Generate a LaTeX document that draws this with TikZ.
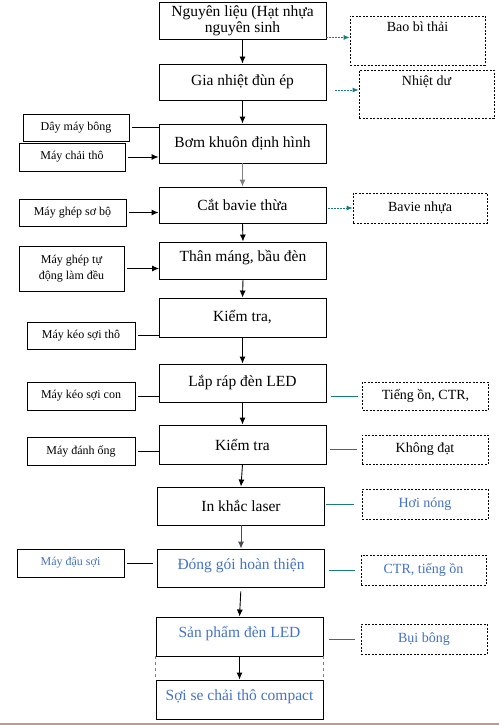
\documentclass[tikz,border=0pt]{standalone}
\usepackage{fontspec}
\setmainfont{Liberation Serif}
\usetikzlibrary{positioning,arrows,arrows.meta,calc}
\definecolor{wordblue}{RGB}{68,114,196}
\definecolor{wastegreen}{RGB}{24,124,124}
\definecolor{pagerule}{RGB}{192,152,140}
\tikzset{stage/.style={draw,line width=0.9pt,minimum width=167pt,inner sep=1pt,align=center,font=\fontsize{15.5}{16}\selectfont}}
\tikzset{raised/.style={text height=12pt,text depth=10pt}}
\tikzset{machine/.style={draw,line width=0.9pt,minimum width=107pt,minimum height=28pt,inner sep=1pt,align=center,font=\fontsize{12}{16}\selectfont}}
\tikzset{waste/.style={draw,line width=0.8pt,dash pattern=on 2pt off 1.5pt,minimum width=126pt,minimum height=29pt,inner sep=1pt,font=\fontsize{14}{16}\selectfont}}
\tikzset{wastetext/.style={font=\fontsize{14}{16}\selectfont,inner sep=1pt}}
\tikzset{flow/.style={-{Latex[length=7pt,width=6pt]},line width=0.9pt}}
\tikzset{feed/.style={line width=0.9pt}}
\tikzset{emit/.style={wastegreen,line width=0.9pt}}
\tikzset{emitarrow/.style={-{Latex[length=6pt,width=5pt]},wastegreen,line width=0.8pt,dash pattern=on 2pt off 1pt}}

\begin{document}
\begin{tikzpicture}[x=1pt,y=-1pt]
  \useasboundingbox (0,0) rectangle (502,725);
  % main line
  \node[stage,minimum height=37pt] (nl) at (242.5,20.5) {Nguyên liệu (Hạt nhựa\\nguyên sinh};
  \node[stage,minimum height=36pt] (gn) at (242.5,82) {Gia nhiệt đùn ép};
  \node[stage,minimum height=39pt] (bk) at (242.5,143.5) {Bơm khuôn định hình};
  \node[stage,minimum height=36pt] (cb) at (242.5,205) {Cắt bavie thừa};
  \node[stage,raised,minimum height=37pt] (tm) at (243,260.5) {Thân máng, bầu đèn};
  \node[stage,minimum height=39pt] (kt1) at (242.5,317.5) {Kiểm tra,};
  \node[stage,minimum height=38pt] (lr) at (242.5,383) {Lắp ráp đèn LED};
  \node[stage,minimum height=39pt] (kt2) at (242.5,444.5) {Kiểm tra};
  \node[stage,minimum height=38pt] (ik) at (241,506) {In khắc laser};
  \node[stage,raised,minimum height=38pt,text=wordblue] (dg) at (241,568) {Đóng gói hoàn thiện};
  \node[stage,raised,minimum height=39pt,text=wordblue] (sp) at (239.5,636.5) {Sản phẩm đèn LED};
  \node[stage,raised,minimum height=39pt,text=wordblue] (ss) at (239.5,699.5) {Sợi se chải thô compact};

  % machines
  \node[machine,minimum width=106pt,minimum height=27pt] (dmb) at (76,127.5) {Dây máy bông};
  \node[machine,minimum width=106pt] (mct) at (72,157) {Máy chải thô};
  \node[machine,minimum width=107pt,minimum height=27pt] (mgs) at (72.5,212.5) {Máy ghép sơ bộ};
  \node[machine,minimum width=105pt,minimum height=45pt] (mgt) at (71.5,268.5) {Máy ghép tự\\động làm đều};
  \node[machine,minimum width=108pt,minimum height=27pt] (mks) at (81,335.5) {Máy kéo sợi thô};
  \node[machine,minimum width=108pt] (mkc) at (81,396) {Máy kéo sợi con};
  \node[machine,minimum width=108pt] (mdo) at (81,451) {Máy đánh ống};
  \node[machine,minimum width=107pt,text=wordblue] (mds) at (70.5,563) {Máy đậu sợi};

  % waste
  \node[waste,minimum width=135pt,minimum height=49pt,label={[wastetext,anchor=north,yshift=-5pt]north:Bao bì thải}] (bbt) at (417.5,40.5) {};
  \node[waste,minimum width=135pt,minimum height=48pt,label={[wastetext,anchor=north,yshift=-5pt]north:Nhiệt dư}] (nd) at (426.5,94) {};
  \node[waste,minimum width=134pt,minimum height=30pt] (bvn) at (420,208) {Bavie nhựa};
  \node[waste,minimum height=28pt] (to1) at (425.5,396) {Tiếng ồn, CTR,};
  \node[waste] (kd) at (425,449.5) {Không đạt};
  \node[waste,minimum height=30pt,text=wordblue] (hn) at (425,504) {Hơi nóng};
  \node[waste,minimum width=125pt,minimum height=30pt,text=wordblue] (ctr) at (423.5,570) {CTR, tiếng ồn};
  \node[waste,minimum height=30pt,text=wordblue] (bb) at (424,639) {Bụi bông};

  % flow down
  \foreach \a/\b in {nl/gn,gn/bk,cb/tm,tm/kt1,kt1/lr,lr/kt2,kt2/ik,sp/ss}
    \draw[flow] (\a.south) -- (\b.north);
  \draw[flow,gray] (bk.south) -- (cb.north);
  \draw[flow,black!70] (ik.south) -- (dg.north);
  \draw[flow,shorten <=4pt] (dg.south) -- (sp.north);
  \draw[gray,thin,dashed] (sp.south west) -- (ss.north west);
  \draw[gray,thin,dashed] (sp.south east) -- (ss.north east);

  % machines in
  \foreach \m/\s in {dmb/bk,mks/kt1,mkc/lr,mdo/kt2}
    \draw[feed,shorten <=3pt] (\m.east) -- (\m.east -| \s.west);
  \foreach \m/\s in {mct/bk,mgs/cb,mgt/tm}
    \draw[flow,shorten <=3pt] (\m.east) -- (\m.east -| \s.west);
  \draw[feed,shorten <=3pt,shorten >=4pt] (mds.east) -- (mds.east -| dg.west);

  % waste out
  \coordinate (nlout) at ([yshift=2pt]nl.south east);
  \coordinate (gnout) at ([xshift=9pt,yshift=-8pt]gn.east);
  \draw[emitarrow] (nlout) -- (nlout -| bbt.west);
  \draw[emitarrow] (gnout) -- (gnout -| nd.west);
  \draw[emitarrow,shorten <=2pt] (bvn.west -| cb.east) -- (bvn.west);
  \draw[emit,shorten <=5pt,shorten >=4pt] (to1.west -| lr.east) -- (to1.west);
  \draw[emit,shorten <=4pt,shorten >=5pt] (kd.west -| kt2.east) -- (kd.west);
  \draw[emit,shorten <=1pt,shorten >=8pt] (hn.west -| ik.east) -- (hn.west);
  \draw[emit,shorten <=4pt,shorten >=6pt] (ctr.west -| dg.east) -- (ctr.west);
  \draw[emit,shorten <=6pt,shorten >=6pt] (bb.west -| sp.east) -- (bb.west);

  \draw[pagerule,line width=1.2pt] (0,724) -- (499,724);
\end{tikzpicture}
\end{document}
